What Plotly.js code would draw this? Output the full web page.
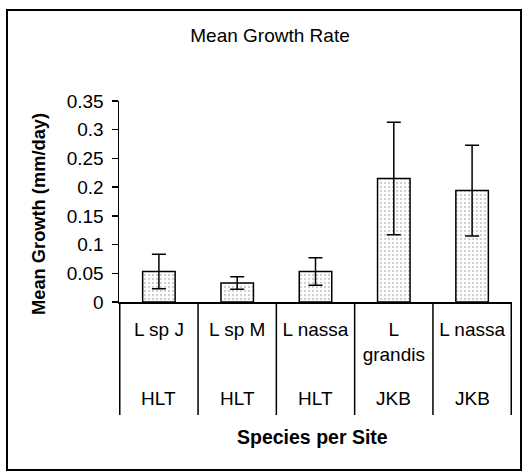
<!DOCTYPE html>
<html>
<head>
<meta charset="utf-8">
<script src="https://cdn.plot.ly/plotly-3.0.1.min.js"></script>
<style>
  html, body { margin: 0; padding: 0; background: #ffffff; }
  #chart { width: 524px; height: 472px; }
</style>
</head>
<body>
<div id="chart"></div>
<script>
// ---- data ----
const species = ["L sp J", "L sp M", "L nassa", "L<br>grandis", "L nassa"];
const sites = ["HLT", "HLT", "HLT", "JKB", "JKB"];
const meanGrowth = [0.053, 0.033, 0.053, 0.215, 0.194];
const errGrowth = [0.030, 0.011, 0.024, 0.098, 0.079];
const yTickVals = [0, 0.05, 0.1, 0.15, 0.2, 0.25, 0.3, 0.35];
const yTickText = ["0", "0.05", "0.1", "0.15", "0.2", "0.25", "0.3", "0.35"];

const FONT = "Arial, 'Liberation Sans', sans-serif";
const keys = species.map((s, i) => s + "|" + sites[i] + "|" + i);

const trace = {
  type: "bar",
  x: keys,
  y: meanGrowth,
  width: 0.415,
  marker: {
    color: "#ffffff",
    line: { color: "#000000", width: 1.5 },
    pattern: { shape: ".", fgcolor: "#9a9a9a", bgcolor: "#ffffff", size: 4, solidity: 0.25, fillmode: "overlay" }
  },
  error_y: { type: "data", array: errGrowth, visible: true, color: "#000000", thickness: 1.5, width: 7 },
  hoverinfo: "skip"
};

// plot area geometry (paper fractions)
const plotH = 472 - 101 - 170;
const plotW = 524 - 119 - 12;
const py = (pix) => (302 - pix) / plotH;
const px = (pix) => (pix - 119) / plotW;

const shapes = [];
for (let i = 0; i <= species.length; i++) {
  shapes.push({
    type: "line", xref: "x", yref: "paper",
    x0: i - 0.5, x1: i - 0.5, y0: 0, y1: py(415),
    line: { color: "#000000", width: 1.5 }
  });
}
// outer chart border
shapes.push({
  type: "rect", xref: "paper", yref: "paper",
  x0: px(7), x1: px(521), y0: py(470), y1: py(10),
  line: { color: "#000000", width: 2 }, fillcolor: "rgba(0,0,0,0)"
});

const annotations = sites.map((s, i) => ({
  xref: "x", yref: "paper", x: keys[i], y: py(398),
  text: s, showarrow: false, yanchor: "middle",
  font: { family: FONT, size: 19, color: "#000000" }
}));
annotations.push({
  xref: "paper", yref: "paper", x: px(312), y: py(437),
  text: "<b>Species per Site</b>", showarrow: false, yanchor: "middle", xanchor: "center",
  font: { family: FONT, size: 19.5, color: "#000000" }
});
annotations.push({
  xref: "paper", yref: "paper", x: px(38), y: py(214),
  text: "<b>Mean Growth (mm/day)</b>", showarrow: false, textangle: -90,
  yanchor: "middle", xanchor: "center",
  font: { family: FONT, size: 18.3, color: "#000000" }
});

const layout = {
  width: 524, height: 472,
  margin: { l: 119, r: 12, t: 101, b: 170, pad: 0 },
  paper_bgcolor: "#ffffff", plot_bgcolor: "#ffffff",
  showlegend: false,
  title: {
    text: "Mean Growth Rate",
    x: 270 / 524, xanchor: "center",
    y: 1 - 35 / 472, yanchor: "middle",
    font: { family: FONT, size: 19, color: "#000000" }
  },
  xaxis: {
    type: "category",
    tickvals: keys, ticktext: species,
    showline: true, linecolor: "#000000", linewidth: 1.5,
    ticks: "outside", ticklen: 10, tickcolor: "rgba(0,0,0,0)",
    showgrid: false, zeroline: false, fixedrange: true,
    tickfont: { family: FONT, size: 19, color: "#000000" }
  },
  yaxis: {
    range: [0, 0.35],
    tickvals: yTickVals, ticktext: yTickText,
    showline: true, linecolor: "#000000", linewidth: 1.5,
    ticks: "outside", ticklen: 6, tickwidth: 1.5, tickcolor: "#000000",
    ticklabelstandoff: 4,
    showgrid: false, zeroline: false, fixedrange: true,
    tickfont: { family: FONT, size: 19, color: "#000000" }
  },
  shapes: shapes,
  annotations: annotations
};

Plotly.newPlot("chart", [trace], layout, { displayModeBar: false, staticPlot: true });
</script>
</body>
</html>
